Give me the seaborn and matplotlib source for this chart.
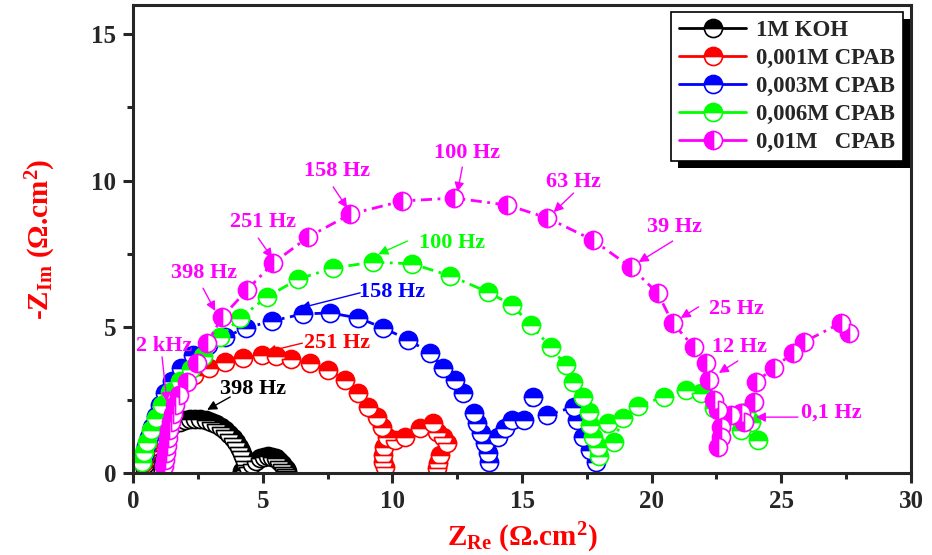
import matplotlib
matplotlib.use("Agg")
import matplotlib.pyplot as plt
import matplotlib.transforms as mtransforms
from matplotlib.lines import Line2D
from matplotlib.patches import Rectangle
from matplotlib.ticker import MultipleLocator
import pandas as pd
import seaborn as sns

# ---------------- data (Z_Re, -Z_Im in ohm.cm2) ----------------
labels = ["1M KOH", "0,001M CPAB", "0,003M CPAB", "0,006M CPAB", "0,01M   CPAB"]
colors = ["black", "red", "blue", "#00ff00", "magenta"]

koh_x = [0.45, 0.47, 0.5, 0.55, 0.62, 0.7, 0.8, 0.9, 1.02, 1.15, 1.3, 1.45, 1.62, 1.8,
         2.0, 2.2, 2.4, 2.6, 2.8, 3.0, 3.2, 3.38, 3.55, 3.7, 3.84, 3.97, 4.08, 4.18,
         4.26, 4.32, 4.35, 4.3, 4.2, 4.3, 4.45, 4.6, 4.75, 4.9, 5.05, 5.2, 5.35, 5.5,
         5.62, 5.73, 5.82, 5.9, 5.95]
koh_y = [0.15, 0.3, 0.45, 0.6, 0.75, 0.9, 1.05, 1.18, 1.3, 1.42, 1.53, 1.62, 1.7, 1.76,
         1.8, 1.83, 1.84, 1.83, 1.8, 1.75, 1.68, 1.58, 1.47, 1.34, 1.2, 1.05, 0.9, 0.74,
         0.58, 0.42, 0.28, 0.15, 0.08, 0.1, 0.2, 0.32, 0.42, 0.5, 0.55, 0.57, 0.56, 0.5,
         0.42, 0.32, 0.22, 0.12, 0.06]

c001_x = [0.39, 0.46, 0.58, 0.73, 0.93, 1.16, 1.47, 1.85, 2.36, 2.93, 3.55, 4.25, 4.98,
          5.52, 6.10, 6.83, 7.53, 8.19, 8.69, 9.07, 9.42, 9.61, 9.81, 9.69, 9.65, 9.65,
          9.73, 10.12, 10.50, 11.08, 11.58, 11.74, 11.97, 12.12, 11.85, 11.78, 11.74]
c001_y = [0.34, 0.62, 0.96, 1.40, 1.88, 2.32, 2.74, 3.08, 3.35, 3.59, 3.79, 3.93, 4.03,
          4.00, 3.90, 3.76, 3.52, 3.18, 2.74, 2.26, 1.91, 1.57, 1.23, 0.89, 0.62, 0.38,
          0.21, 1.13, 1.23, 1.54, 1.71, 1.40, 1.23, 1.03, 0.62, 0.34, 0.17]

c003_x = [0.35, 0.42, 0.50, 0.62, 0.73, 0.89, 1.04, 1.24, 1.51, 1.85, 2.32, 2.90, 3.55,
          4.36, 5.37, 6.56, 7.61, 8.69, 9.65, 10.62, 11.47, 11.97, 12.43, 12.74, 13.13,
          13.28, 13.40, 13.59, 13.67, 13.71, 14.09, 14.36, 14.63, 15.06, 15.41, 15.98,
          16.99, 17.14, 17.37, 17.64, 17.84]
c003_y = [0.38, 0.62, 0.92, 1.23, 1.57, 1.95, 2.32, 2.74, 3.15, 3.59, 4.03, 4.38, 4.65,
          4.96, 5.20, 5.44, 5.47, 5.30, 4.96, 4.55, 4.10, 3.59, 3.18, 2.74, 2.05,
          1.71, 1.37, 1.03, 0.68, 0.38, 1.23, 1.54, 1.81, 1.81, 2.60, 1.98,
          2.26, 1.81, 1.23, 0.79, 0.38]

c006_x = [0.35, 0.42, 0.54, 0.69, 0.89, 1.12, 1.43, 1.81, 2.24, 2.70, 3.36, 4.13, 5.17,
          6.37, 7.72, 9.27, 10.77, 12.24, 13.67, 14.63, 15.33, 16.10, 16.68, 16.95, 17.34,
          17.57, 17.64, 17.72, 17.92, 17.95, 18.30, 18.53, 18.88, 19.46, 20.46, 21.31,
          21.89, 22.39, 23.63, 23.82, 23.44, 24.09]
c006_y = [0.38, 0.72, 1.06, 1.47, 1.88, 2.32, 2.77, 3.15, 3.56, 4.00, 4.65, 5.30, 6.02,
          6.63, 7.01, 7.21, 7.15, 6.74, 6.19, 5.74, 5.06, 4.31, 3.69, 3.11, 2.60,
          2.09, 1.64, 1.23, 0.89, 0.58, 1.71, 1.06, 1.88, 2.29, 2.60, 2.84,
          2.74, 2.22, 2.09, 1.74, 1.47, 1.13]

c01_x = [1.20, 1.24, 1.27, 1.31, 1.35, 1.39, 1.47, 1.54, 1.62, 1.78, 2.08, 2.47, 2.86,
         3.44, 4.40, 5.41, 6.76, 8.38, 10.39, 12.39, 14.44, 15.98, 17.72, 19.19, 20.23,
         20.81, 21.62, 22.08, 22.20, 22.39, 22.55, 22.66, 22.66, 22.55, 23.05, 23.44,
         23.55, 23.94, 24.02, 24.71, 25.44, 25.87, 27.30, 27.61]
c01_y = [0.24, 0.44, 0.68, 0.92, 1.20, 1.47, 1.74, 2.02, 2.32, 2.67, 3.11, 3.76, 4.44,
         5.33, 6.26, 7.18, 8.07, 8.85, 9.30, 9.40, 9.16, 8.72, 7.97, 7.04, 6.15,
         5.13, 4.31, 3.76, 3.18, 2.50, 2.15, 1.57, 1.23, 0.89, 1.98, 2.05,
         1.74, 2.43, 3.11, 3.59, 4.10, 4.48, 5.13, 4.79]

series_x = [koh_x, c001_x, c003_x, c006_x, c01_x]
series_y = [koh_y, c001_y, c003_y, c006_y, c01_y]
fills = ["top", "top", "top", "top", "left"]

# frequency annotations: text, color, text pos, arrow start, arrow end
ann_text = ["2 kHz", "398 Hz", "251 Hz", "158 Hz", "100 Hz",
            "398 Hz", "251 Hz", "158 Hz", "100 Hz", "63 Hz", "39 Hz", "25 Hz", "12 Hz", "0,1 Hz"]
ann_color = ["magenta", "black", "red", "blue", "#00ff00",
             "magenta", "magenta", "magenta", "magenta", "magenta", "magenta", "magenta",
             "magenta", "magenta"]
ann_tx = [1.20, 4.64, 7.88, 10.0, 12.32, 2.74, 5.02, 7.88, 12.89, 16.99, 20.89, 23.28, 23.40, 26.91]
ann_ty = [4.34, 2.87, 4.44, 6.19, 7.86, 6.84, 8.58, 10.32, 10.94, 9.95, 8.41, 5.61, 4.31, 2.05]
arr_sx = [1.12, 3.75, 6.53, 8.76, 10.58, 2.70, 4.83, 7.72, 12.70, 16.99, 20.81, 21.81, 23.32, 25.64]
arr_sy = [3.97, 2.60, 4.44, 6.16, 7.93, 6.32, 8.03, 9.78, 10.46, 9.57, 7.93, 5.68, 3.83, 1.91]
arr_ex = [1.31, 2.86, 5.14, 6.45, 9.46, 3.17, 5.37, 8.26, 12.51, 16.22, 19.50, 21.12, 22.59, 24.02]
arr_ey = [2.43, 2.16, 4.14, 5.64, 7.48, 5.54, 7.35, 9.06, 9.61, 8.92, 7.21, 5.30, 3.42, 1.91]

# ---------------- style ----------------
sns.set_style("ticks")
plt.rcParams["font.family"] = ["Liberation Serif", "DejaVu Serif"]
plt.rcParams["font.weight"] = "bold"
plt.rcParams["mathtext.fontset"] = "custom"
plt.rcParams["mathtext.rm"] = "Liberation Serif:bold"
plt.rcParams["mathtext.it"] = "Liberation Serif:bold"
plt.rcParams["mathtext.bf"] = "Liberation Serif:bold"

fig = plt.figure(figsize=(9.32, 5.55), dpi=100)
ax = fig.add_axes([133 / 932, 82 / 555, (911 - 133) / 932, 468 / 555])

MS = 13
dash = (0, (4, 2, 1, 2))
for lab, xs, ys, col, fs in zip(labels, series_x, series_y, colors, fills):
    df = pd.DataFrame({"x": xs, "y": ys})
    sns.lineplot(data=df, x="x", y="y", sort=False, estimator=None, ax=ax,
                 color=col, lw=2, linestyle=dash, marker="o", markersize=MS,
                 fillstyle=fs, markerfacecolor=col, markerfacecoloralt="white",
                 markeredgecolor=col, markeredgewidth=1.2, legend=False)

for t, c, tx, ty, sx, sy, ex, ey in zip(ann_text, ann_color, ann_tx, ann_ty,
                                        arr_sx, arr_sy, arr_ex, arr_ey):
    ax.text(tx, ty, t, color=c, ha="center", va="center", fontsize=16,
            fontweight="bold", zorder=6)
    ax.annotate("", xy=(ex, ey), xytext=(sx, sy), zorder=6,
                arrowprops=dict(arrowstyle="-|>", color=c, lw=1, mutation_scale=14,
                                shrinkA=0, shrinkB=0))

ax.set_xlim(0, 30)
ax.set_ylim(0, 16)
ax.xaxis.set_major_locator(MultipleLocator(5))
ax.xaxis.set_minor_locator(MultipleLocator(2.5))
ax.yaxis.set_major_locator(MultipleLocator(5))
ax.yaxis.set_minor_locator(MultipleLocator(2.5))
ax.tick_params(which="major", direction="out", length=7, width=2.2, labelsize=18, pad=5)
ax.tick_params(which="minor", direction="out", length=4, width=2.2)
for lbl in ax.get_xticklabels() + ax.get_yticklabels():
    lbl.set_fontweight("bold")
for sp in ax.spines.values():
    sp.set_linewidth(2.2)
    sp.set_visible(True)

ax.set_xlabel(r"$\mathrm{Z_{Re}}$ ($\mathrm{\Omega}$.cm$^{\mathrm{2}}$)", color="red",
              fontsize=21, fontweight="bold", labelpad=6)
ax.set_ylabel(r"-$\mathrm{Z_{Im}}$ ($\mathrm{\Omega}$.cm$^{\mathrm{2}}$)", color="red",
              fontsize=21, fontweight="bold", labelpad=24)

handles = [Line2D([0], [0], color=c, lw=2, marker="o", markersize=MS, fillstyle=fs,
                  markerfacecolor=c, markerfacecoloralt="white", markeredgecolor=c,
                  markeredgewidth=1.2)
           for c, fs in zip(colors, fills)]
leg = ax.legend(handles, labels, loc="upper right", bbox_to_anchor=(0.990, 0.985),
                frameon=True, fancybox=False, edgecolor="black", framealpha=1,
                prop=dict(family="Liberation Serif", weight="bold", size=16.5),
                handlelength=2.9, borderaxespad=0, labelspacing=0.3,
                handletextpad=0.45, borderpad=0.35)
leg.get_frame().set_linewidth(1.2)
leg.set_zorder(10)

fig.canvas.draw()
bb = leg.get_window_extent()
shadow = Rectangle((bb.x0 + 7, bb.y0 - 7), bb.width, bb.height,
                   transform=mtransforms.IdentityTransform(), facecolor="black",
                   edgecolor="none", zorder=9.5, clip_on=False)
ax.add_patch(shadow)

fig.savefig("out.png", dpi=100)
